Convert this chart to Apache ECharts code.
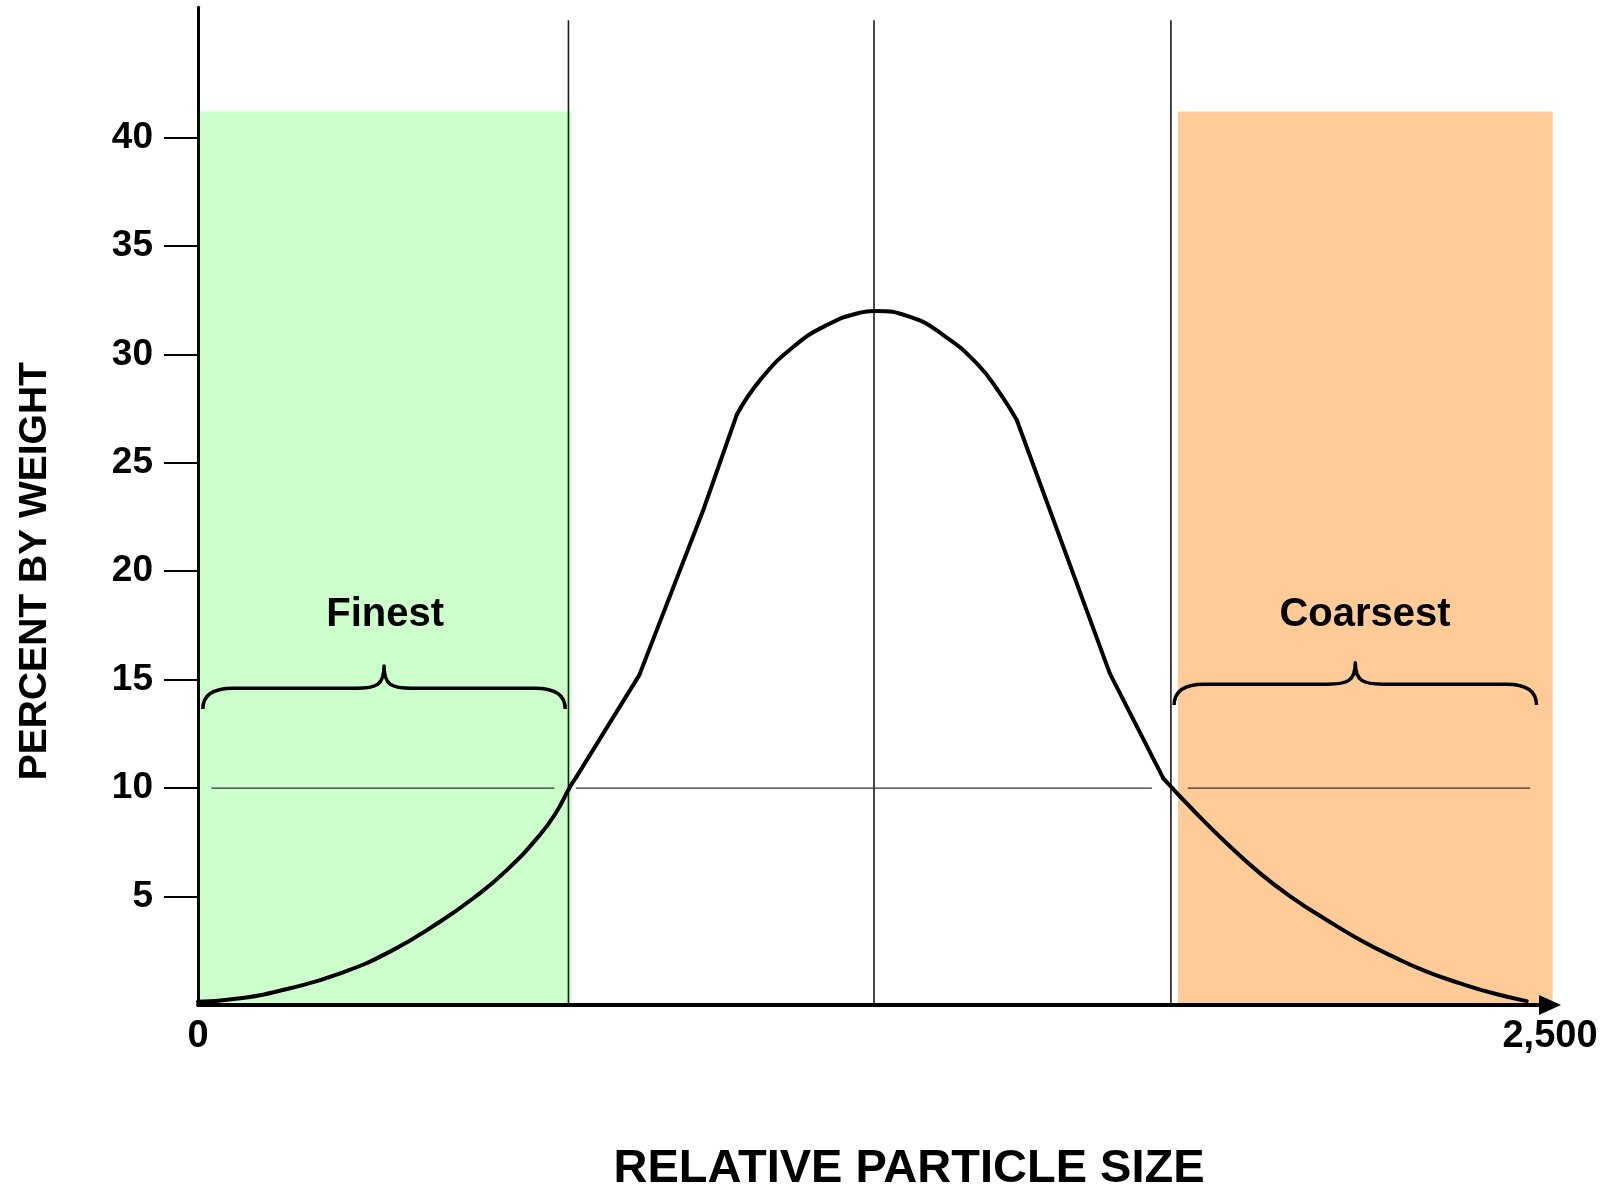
<!DOCTYPE html>
<html><head><meta charset="utf-8">
<script src="https://cdn.jsdelivr.net/npm/echarts@6/dist/echarts.min.js"></script>
<style>html,body{margin:0;padding:0;background:#fff}#chart{width:1619px;height:1192px}</style>
</head><body><div id="chart"></div>
<script>
// ---- data ----
const xTickValues = [0, 2500];
const xTickLabels = ['0', '2,500'];
const yTickValues = [5, 10, 15, 20, 25, 30, 35, 40];

// distribution curve (relative particle size, percent by weight)
const curveX = [0, 78, 170, 263, 355, 448, 509, 571, 632, 663, 688, 700,
  816, 934, 996, 1039, 1101, 1163, 1224, 1250, 1317, 1378, 1440, 1483, 1514,
  1686, 1785, 1840, 1902, 1964, 2025, 2087, 2149, 2210, 2272, 2334, 2395, 2457];
const curveY = [0.15, 0.31, 0.77, 1.46, 2.46, 3.85, 4.92, 6.22, 7.84, 8.91, 10.06, 10.53,
  15.21, 22.8, 27.2, 28.8, 30.35, 31.35, 31.92, 32.0, 31.73, 30.89, 29.58, 28.2, 26.97,
  15.29, 10.45, 8.99, 7.46, 6.07, 4.92, 3.92, 3.0, 2.23, 1.54, 1.0, 0.54, 0.18];
// the curve is drawn as pieces: [first index, last index, curved?]
const curvePieces = [[0, 11, true], [11, 14, false], [14, 24, true], [24, 26, false], [26, 37, true]];

const boundaryX = [685, 1250, 1799];
const guideTop = 45.4;
const referenceLevel = 10;
const referenceStart = [25, 699, 1830];
const referenceEnd = [659, 1764, 2463];

const bandNames = ['Finest', 'Coarsest'];
const bandStart = [0, 1812];
const bandEnd = [691, 2505];
const bandTop = 41.2;

const braceStart = [9, 1805];
const braceEnd = [679, 2475];
const braceEndLevel = [13.65, 13.83];
const braceLevel = [14.6, 14.79];
const braceTipLevel = [15.63, 15.78];

const labelX = [346, 2158];
const labelY = [18.0, 18.0];

// ---- styles ----
const FONT = '"Liberation Sans", Arial, Helvetica, sans-serif';
const bandColors = ['#CCFFCC', '#FFCC99'];

const chart = echarts.init(document.getElementById('chart'), null, {renderer: 'canvas'});

const curveData = curveX.map((x, i) => [x, curveY[i]]);
const bandData = bandStart.map((s, i) => [s, bandEnd[i], bandTop, i]);
const vData = boundaryX.map(x => [x, 0, guideTop]);
const hData = referenceStart.map((s, i) => [s, referenceEnd[i], referenceLevel]);
const braceData = braceStart.map((s, i) => [s, braceEnd[i], braceEndLevel[i], braceLevel[i], braceTipLevel[i]]);
const labelData = labelX.map((x, i) => [x, labelY[i], bandNames[i]]);

const curveSeries = curvePieces.map(([a, b, curved]) => ({
  type: 'line', name: 'distribution', z: 4, silent: true,
  data: curveData.slice(a, b + 1), showSymbol: false,
  smooth: curved ? 0.5 : false,
  lineStyle: {color: '#000', width: 4, cap: 'round', join: 'round'}
}));

const option = {
  backgroundColor: '#fff',
  animation: false,
  grid: {left: 198, right: 69, top: 7.3, bottom: 187, containLabel: false, outerBoundsMode: 'none'},
  xAxis: {
    type: 'value', min: 0, max: 2500, z: 10,
    name: 'RELATIVE PARTICLE SIZE', nameLocation: 'middle', nameGap: 141,
    nameTextStyle: {fontFamily: FONT, fontWeight: 'bold', fontSize: 47, color: '#000', padding: [0, 0, 0, 70]},
    axisLine: {show: true, symbol: ['none', 'triangle'], symbolSize: [20, 22], lineStyle: {color: '#000', width: 4}},
    axisTick: {show: false},
    splitLine: {show: false},
    axisLabel: {
      customValues: xTickValues, margin: 13,
      fontFamily: FONT, fontWeight: 'bold', fontSize: 38, color: '#000',
      formatter: v => xTickLabels[xTickValues.indexOf(v)] ?? ''
    }
  },
  yAxis: {
    type: 'value', min: 0, max: 46, z: 10,
    name: 'PERCENT BY WEIGHT', nameLocation: 'middle', nameGap: 143,
    nameTextStyle: {fontFamily: FONT, fontWeight: 'bold', fontSize: 39, color: '#000', padding: [0, 130, 0, 0]},
    axisLine: {show: true, lineStyle: {color: '#000', width: 3}},
    axisTick: {show: true, customValues: yTickValues, length: 34, lineStyle: {color: '#000', width: 2}},
    splitLine: {show: false},
    axisLabel: {
      customValues: yTickValues, margin: 45,
      fontFamily: FONT, fontWeight: 'bold', fontSize: 37, color: '#000'
    }
  },
  series: [
    {
      type: 'custom', name: 'bands', z: 1, silent: true,
      data: bandData, encode: {x: [0, 1], y: 2},
      renderItem: (params, api) => {
        const p0 = api.coord([api.value(0), api.value(2)]);
        const p1 = api.coord([api.value(1), 0]);
        return {type: 'rect', shape: {x: p0[0], y: p0[1], width: p1[0] - p0[0], height: p1[1] - p0[1]},
          style: {fill: bandColors[api.value(3)]}};
      }
    },
    {
      type: 'custom', name: 'vlines', z: 2, silent: true,
      data: vData, encode: {x: 0, y: [1, 2]},
      renderItem: (params, api) => {
        const a = api.coord([api.value(0), api.value(1)]);
        const b = api.coord([api.value(0), api.value(2)]);
        return {type: 'line', shape: {x1: a[0], y1: a[1], x2: b[0], y2: b[1]},
          style: {stroke: '#1a1a1a', lineWidth: 1.6}};
      }
    },
    {
      type: 'custom', name: 'hlines', z: 2, silent: true,
      data: hData, encode: {x: [0, 1], y: 2},
      renderItem: (params, api) => {
        const a = api.coord([api.value(0), api.value(2)]);
        const b = api.coord([api.value(1), api.value(2)]);
        return {type: 'line', shape: {x1: a[0], y1: a[1], x2: b[0], y2: b[1]},
          style: {stroke: '#333', lineWidth: 1.4}};
      }
    },
    {
      type: 'custom', name: 'braces', z: 3, silent: true,
      data: braceData, encode: {x: [0, 1], y: [2, 3, 4]},
      renderItem: (params, api) => {
        const x0 = api.value(0), x1 = api.value(1);
        const pA = api.coord([x0, api.value(2)]);
        const pL = api.coord([x0, api.value(3)]);
        const pB = api.coord([x1, api.value(2)]);
        const pT = api.coord([(x0 + x1) / 2, api.value(4)]);
        const xa = pA[0], yb = pA[1], yl = pL[1], xb = pB[0], xm = pT[0], yt = pT[1];
        const r = 30, r2 = 28;
        const d = `M${xa},${yb} Q${xa},${yl} ${xa + r},${yl} L${xm - r2},${yl} ` +
          `C${xm - 8},${yl} ${xm},${yl - 3} ${xm},${yt} ` +
          `C${xm},${yl - 3} ${xm + 8},${yl} ${xm + r2},${yl} L${xb - r},${yl} Q${xb},${yl} ${xb},${yb}`;
        return {type: 'path', shape: {pathData: d},
          style: {stroke: '#000', lineWidth: 3.5, fill: null, lineJoin: 'round'}};
      }
    },
    {
      type: 'custom', name: 'labels', z: 3, silent: true,
      data: labelData, encode: {x: 0, y: 1},
      renderItem: (params, api) => {
        const p = api.coord([api.value(0), api.value(1)]);
        return {type: 'text', x: p[0], y: p[1],
          style: {text: labelData[params.dataIndex][2], fill: '#000', fontFamily: FONT, fontWeight: 'bold',
            fontSize: 40, align: 'center', verticalAlign: 'middle'}};
      }
    }
  ].concat(curveSeries)
};
chart.setOption(option);
</script>
</body></html>
